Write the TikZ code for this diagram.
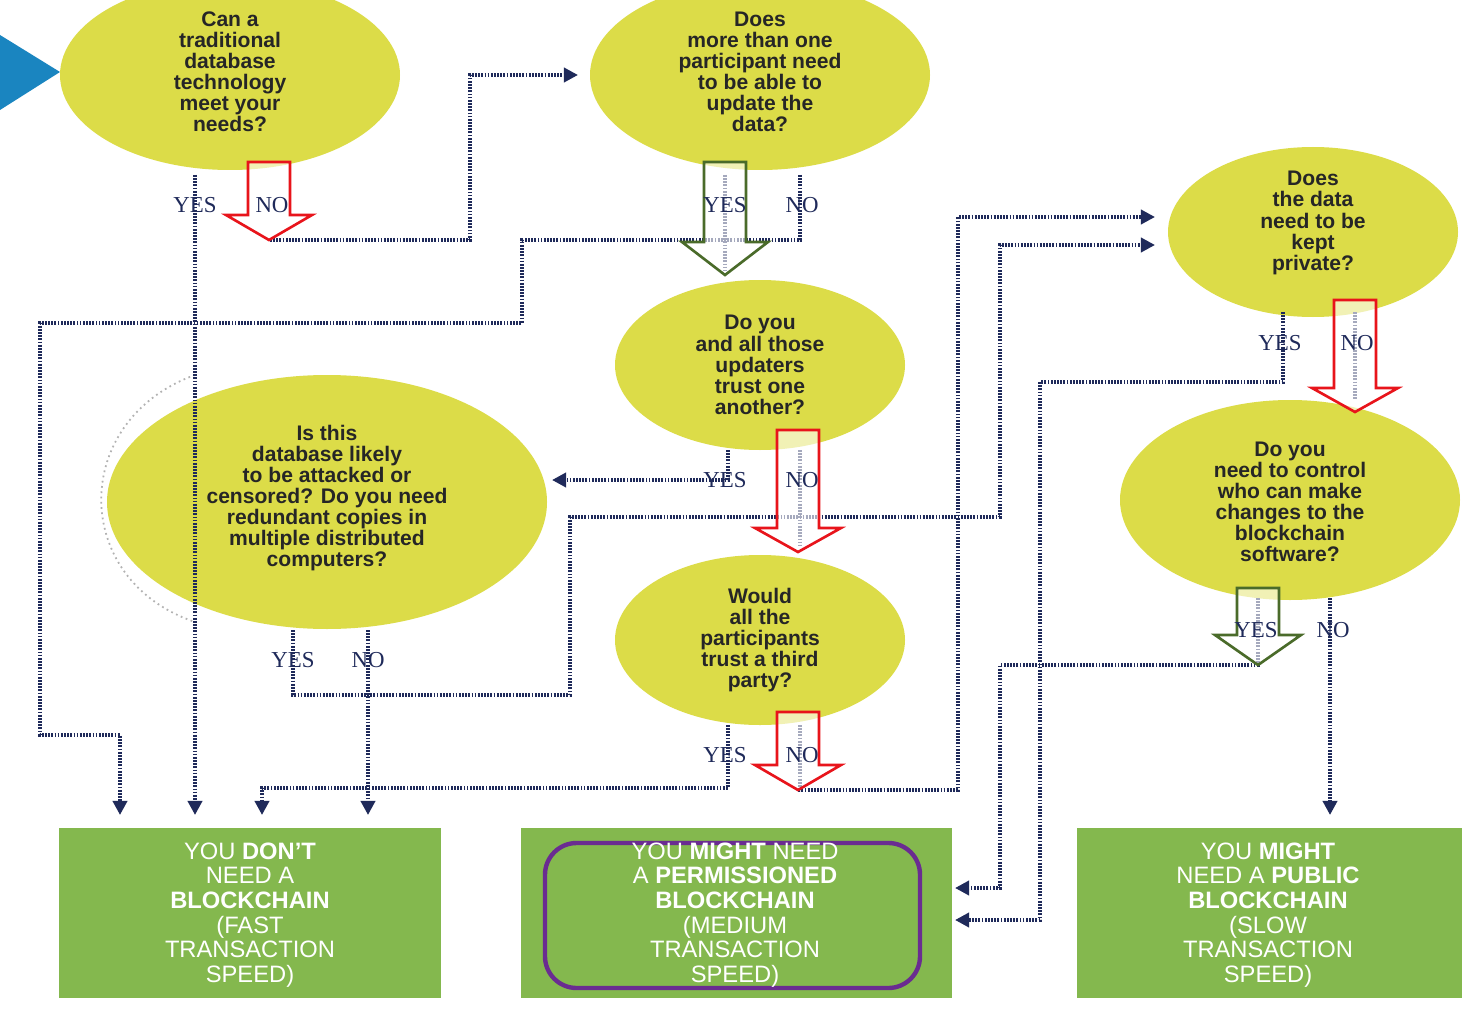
\documentclass[tikz,border=0pt]{standalone}
\usepackage{fontspec}
\setmainfont{Liberation Sans}
\newfontfamily\yn{Liberation Serif}
\usetikzlibrary{arrows.meta,shapes.geometric}
\definecolor{ell}{HTML}{DCDC48}
\definecolor{bx}{HTML}{84B84E}
\definecolor{nv}{HTML}{1F2A5A}
\definecolor{rd}{HTML}{E8141B}
\definecolor{gr}{HTML}{4A6B2A}
\definecolor{pu}{HTML}{6A2C91}
\definecolor{bl}{HTML}{1A85C0}
\begin{document}
\begin{tikzpicture}[x=0.02cm,y=-0.02cm,
 box/.style={text=white,align=center,font=\fontsize{13.5}{14}\selectfont,inner sep=0pt},
 dl/.style={nv,line width=2pt,dash pattern=on 1pt off 0.8pt},
 ar/.style={dl,-{Triangle[length=8pt,width=8pt]}},
 lb/.style={font=\yn\fontsize{13}{13}\selectfont,text=nv},
 blk/.style={line width=1.5pt,fill=white,fill opacity=0.6,draw opacity=1,text opacity=1},
 t/.style={align=center,font=\bfseries\fontsize{12}{12}\selectfont,text=black!85}]
\useasboundingbox (0,0) rectangle (1484,1010);
\fill[white] (0,0) rectangle (1484,1010);
\fill[bl] (0,35) -- (60,72) -- (0,110) -- cycle;
% ellipses
\path[fill=ell] (230,75) ellipse [x radius=170,y radius=-95];
\path[fill=ell] (760,75) ellipse [x radius=170,y radius=-95];
\path[fill=ell] (1313,232) ellipse [x radius=145,y radius=-85];
\path[fill=ell] (760,365) ellipse [x radius=145,y radius=-85];
\path[fill=ell] (327,502) ellipse [x radius=220,y radius=-127];
\path[fill=ell] (1290,500) ellipse [x radius=170,y radius=-100];
\path[fill=ell] (760,640) ellipse [x radius=145,y radius=-85];
\node[t] (q1) at (230,72) {Can a\\traditional\\database\\technology\\meet your\\needs?};
\node[t] (q2) at (760,72) {Does\\more than one\\participant need\\to be able to\\update the\\data?};
\node[t] (q3) at (1313,223) {Does\\the data\\need to be\\kept\\private?};
\node[t] (q4) at (760,365) {Do you\\and all those\\updaters\\trust one\\another?};
\node[t] (q5) at (327,498) {Is this\\database likely\\to be attacked or\\censored? Do you need\\redundant copies in\\multiple distributed\\computers?};
\node[t] (q6) at (1290,502) {Do you\\need to control\\who can make\\changes to the\\blockchain\\software?};
\node[t] (q7) at (760,640) {Would\\all the\\participants\\trust a third\\party?};
% boxes
\fill[bx] (59,828) rectangle (441,998);
\fill[bx] (521,828) rectangle (952,998);
\fill[bx] (1077,828) rectangle (1462,998);
\draw[pu,line width=2.5pt,rounded corners=18pt] (545,843) rectangle (920,988);
\node[box] (b1) at (250,915) {YOU \textbf{DON’T}\\NEED A\\\textbf{BLOCKCHAIN}\\(FAST\\TRANSACTION\\SPEED)};
\node[box] (b2) at (735,915) {YOU \textbf{MIGHT} NEED\\A \textbf{PERMISSIONED}\\\textbf{BLOCKCHAIN}\\(MEDIUM\\TRANSACTION\\SPEED)};
\node[box] (b3) at (1268,915) {YOU \textbf{MIGHT}\\NEED A \textbf{PUBLIC}\\\textbf{BLOCKCHAIN}\\(SLOW\\TRANSACTION\\SPEED)};
% gray arc
\draw[gray!60,line width=1pt,dotted] (195,375) .. controls (70,420) and (70,580) .. (195,622);
% connectors
\coordinate (a1) at (195,175); \coordinate (a2) at (195,815);
\draw[ar] (a1) -- (a2);
\coordinate (n1) at (270,240);
\draw[ar] (n1) -- (470,240) -- (470,75) -- (578,75);
\coordinate (n2) at (800,175);
\draw[ar] (n2) -- (800,240) -- (522,240) -- (522,323) -- (40,323) -- (40,735) -- (120,735) -- (120,815);
\coordinate (y4) at (728,450);
\draw[ar] (y4) -- (728,480) -- (552,480);
\coordinate (y5) at (293,630);
\draw[ar] (y5) -- (293,695) -- (570,695) -- (570,517) -- (1000,517) -- (1000,245) -- (1155,245);
\coordinate (n5) at (368,630);
\draw[ar] (n5) -- (368,815);
\coordinate (y7) at (728,725);
\draw[ar] (y7) -- (728,788) -- (262,788) -- (262,815);
\coordinate (n7) at (800,725);
\draw[ar] (n7) -- (800,790) -- (958,790) -- (958,217) -- (1155,217);
\coordinate (y3) at (1283,312);
\draw[ar] (y3) -- (1283,382) -- (1040,382) -- (1040,920) -- (955,920);
\draw[dl] (1355,312) -- (1355,400);
\coordinate (y6) at (1258,598);
\draw[ar] (y6) -- (1258,665) -- (1000,665) -- (1000,888) -- (955,888);
\coordinate (n6) at (1330,598);
\draw[ar] (n6) -- (1330,815);
\draw[dl] (725,175) -- (725,270);
\draw[dl] (800,450) -- (800,545);
% block arrows
\newcommand\blkarrow[5]{%
 \draw[#4,blk] (#1-21,#2) -- (#1+21,#2) -- (#1+21,#5) -- (#1+43,#5) -- (#1,#3) -- (#1-43,#5) -- (#1-21,#5) -- cycle;}
\blkarrow{269}{162}{240}{rd}{215}
\blkarrow{725}{162}{275}{gr}{242}
\blkarrow{1355}{300}{412}{rd}{388}
\blkarrow{798}{430}{552}{rd}{528}
\blkarrow{1258}{588}{665}{gr}{635}
\blkarrow{798}{712}{790}{rd}{765}
% labels
\node[lb] at (195,205) {YES}; \node[lb] at (272,205) {NO};
\node[lb] at (725,205) {YES}; \node[lb] at (802,205) {NO};
\node[lb] at (1280,343) {YES}; \node[lb] at (1357,343) {NO};
\node[lb] at (725,480) {YES}; \node[lb] at (802,480) {NO};
\node[lb] at (293,660) {YES}; \node[lb] at (368,660) {NO};
\node[lb] at (1256,630) {YES}; \node[lb] at (1333,630) {NO};
\node[lb] at (725,755) {YES}; \node[lb] at (802,755) {NO};
\end{tikzpicture}
\end{document}
